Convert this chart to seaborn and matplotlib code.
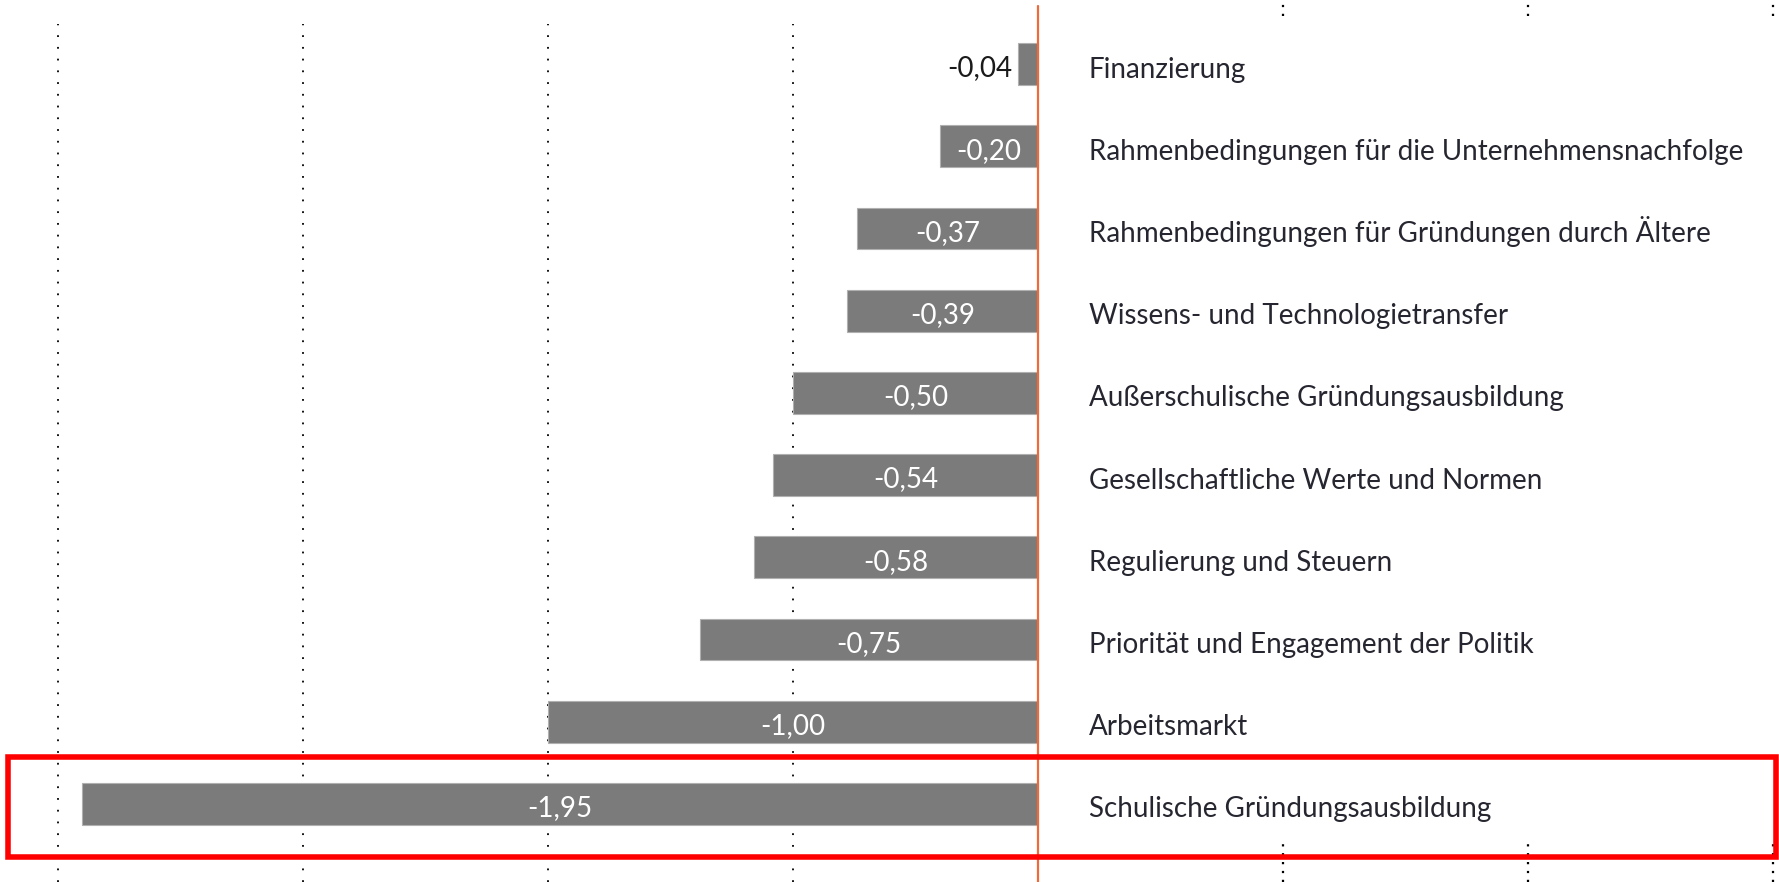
import numpy as np
import pandas as pd
import seaborn as sns
import matplotlib.pyplot as plt
from matplotlib.patches import Rectangle

categories = ['Finanzierung',
              'Rahmenbedingungen für die Unternehmensnachfolge',
              'Rahmenbedingungen für Gründungen durch Ältere',
              'Wissens- und Technologietransfer',
              'Außerschulische Gründungsausbildung',
              'Gesellschaftliche Werte und Normen',
              'Regulierung und Steuern',
              'Priorität und Engagement der Politik',
              'Arbeitsmarkt',
              'Schulische Gründungsausbildung']
# bar lengths as drawn in the picture (the -0,75 bar is drawn shorter)
bar_lengths = [-0.04, -0.20, -0.37, -0.39, -0.50, -0.54, -0.58, -0.69, -1.00, -1.95]
labels = ['-0,04', '-0,20', '-0,37', '-0,39', '-0,50', '-0,54', '-0,58', '-0,75', '-1,00', '-1,95']
grid_left = [-2.0, -1.5, -1.0, -0.5]
grid_right = [0.5, 1.0, 1.5]

df = pd.DataFrame({'kategorie': categories, 'wert': bar_lengths})

sns.set_style('white')
plt.rcParams['font.family'] = ['Lato', 'DejaVu Sans']

fig = plt.figure(figsize=(17.79, 8.82), dpi=100)
ax = fig.add_axes([0, 0, 1, 1])

# dotted grid lines
for g in grid_left:
    ax.axvline(g, ymin=0, ymax=1 - 24 / 882, color='black', lw=1.3,
               linestyle=(0, (1, 5.5)), zorder=0)
for g in grid_right:
    ax.axvline(g, ymin=1 - 16 / 882, ymax=1, color='black', lw=1.6,
               linestyle=(0, (1, 3)), zorder=0)
    ax.axvline(g, ymin=0, ymax=40 / 882, color='black', lw=1.6,
               linestyle=(0, (1, 3)), zorder=0)

sns.barplot(data=df, x='wert', y='kategorie', color='#7b7b7b', width=0.51,
            saturation=1, edgecolor='#b0b0b0', linewidth=0.8, ax=ax, zorder=2)

ax.set_xlim(-2.118, 1.512)
ax.set_ylim(9.95, -0.78)

# zero line
ax.axvline(0, ymin=0, ymax=1 - 6 / 882, color='#ef6a3a', lw=1.6, zorder=3)

for i, (cat, v, lab) in enumerate(zip(categories, bar_lengths, labels)):
    if v > -0.1:
        ax.text(v - 0.012, i + 0.15, lab, ha='right', va='baseline',
                fontsize=20, color='#1a1a1a')
    else:
        ax.text(v / 2, i + 0.15, lab, ha='center', va='baseline',
                fontsize=20, color='white')
    ax.text(0.104, i + 0.165, cat, ha='left', va='baseline', fontsize=20,
            color='#262630')

# highlight box around the last row
ax.add_patch(Rectangle((8 / 1779, 25 / 882), 1768 / 1779, 100 / 882,
                       transform=ax.transAxes, fill=False,
                       edgecolor='#ff0000', lw=4, zorder=5))

ax.set_axis_off()
ax.set_xlabel('')
ax.set_ylabel('')

plt.savefig('out.png', dpi=100)
